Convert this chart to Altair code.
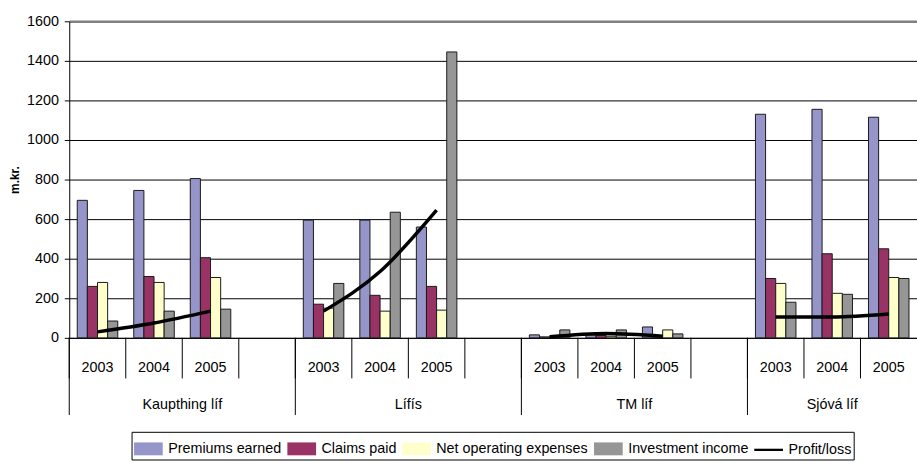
import altair as alt
import pandas as pd

# ---- data -------------------------------------------------------------
companies = ["Kaupthing líf", "Lífís", "TM líf", "Sjóvá líf"]
years = ["2003", "2004", "2005"]
bar_series = ["Premiums earned", "Claims paid", "Net operating expenses", "Investment income"]
line_series = "Profit/loss"

# values per company x year (m.kr.), companies in order above, years 2003-2005
premiums_earned = [695, 745, 805, 595, 595, 560, 15, 15, 55, 1130, 1155, 1115]
claims_paid = [260, 310, 405, 170, 215, 260, 5, 12, 12, 300, 425, 450]
net_operating_expenses = [280, 280, 305, 150, 135, 140, 8, 8, 40, 275, 225, 305]
investment_income = [85, 135, 145, 275, 635, 1445, 40, 40, 20, 180, 220, 300]
profit_loss = [30, 75, 135, 135, 335, 645, 5, 22, 8, 105, 105, 120]

y_ticks = [0, 200, 400, 600, 800, 1000, 1200, 1400, 1600]

bar_colors = ["#9595C9", "#993366", "#FFFFCC", "#969696"]
line_color = "#000000"

FONT = "Liberation Sans"

# legend swatches: wide boxes for the bars, a thick stroke for the line
RECT_PATH = "M-1,-0.45H1V0.45H-1Z"
LINE_PATH = "M-1,-0.08H1V0.08H-1Z"
SWATCH_SIZE = 841

# ---- tables -----------------------------------------------------------
# one category slot per company/year, plus a blank spacer slot between companies
slots = []
for i, c in enumerate(companies):
    for y in years:
        slots.append(f"{c}|{y}")
    if i < len(companies) - 1:
        slots.append(f"{c}|")

bar_rows, line_rows = [], []
for ci, c in enumerate(companies):
    for yi, y in enumerate(years):
        k = ci * 3 + yi
        for s, vals in zip(bar_series, [premiums_earned, claims_paid,
                                        net_operating_expenses, investment_income]):
            bar_rows.append({"slot": f"{c}|{y}", "company": c, "series": s, "value": vals[k]})
        line_rows.append({"slot": f"{c}|{y}", "company": c, "series": line_series,
                          "value": profit_loss[k]})
bars_df = pd.DataFrame(bar_rows)
line_df = pd.DataFrame(line_rows)
legend_df = pd.DataFrame({"series": bar_series + [line_series]})

slot_df = pd.DataFrame({"slot": slots})
group_df = pd.DataFrame({
    "company": companies,
    "first": [f"{c}|{years[0]}" for c in companies],
    "mid": [f"{c}|{years[1]}" for c in companies],
    "n": [4 if i < len(companies) - 1 else 3 for i in range(len(companies))],
})

# ---- shared scales / axes ---------------------------------------------
x_scale = alt.Scale(domain=slots, paddingInner=0, paddingOuter=0)
y_scale = alt.Scale(domain=[0, 1600], nice=False)
series_domain = bar_series + [line_series]
color_scale = alt.Scale(domain=series_domain, range=bar_colors + [line_color])
shape_scale = alt.Scale(domain=series_domain, range=[RECT_PATH] * 4 + [LINE_PATH])

legend = alt.Legend(
    orient="none", legendX=63, legendY=415, direction="horizontal", columns=5,
    title=None, labelFont=FONT, labelFontSize=14.5, labelColor="black", labelOffset=5,
    columnPadding=3, symbolSize=SWATCH_SIZE, padding=2, strokeColor="black", fillColor="white",
    labelLimit=400, symbolStrokeColor="black", symbolStrokeWidth=1, symbolOpacity=1,
)

x_axis = alt.Axis(
    title=None, labelExpr="split(datum.value, '|')[1]", ticks=False, tickSize=0,
    labelAngle=0, labelFont=FONT, labelFontSize=14.5, labelColor="black",
    labelPadding=30, labelBaseline="middle", labelOverlap=False, labelBound=False,
    domainColor="black", domainWidth=1, grid=False,
)

y_axis = alt.Axis(
    values=y_ticks, format="d", tickSize=5, tickColor="black", domainColor="black",
    labelFont=FONT, labelFontSize=14.5, labelColor="black", labelPadding=6,
    grid=True,
    gridColor={"condition": {"test": "datum.value === 1600", "value": "#808080"}, "value": "black"},
    gridWidth={"condition": {"test": "datum.value === 1600", "value": 2.5}, "value": 1},
    title="m.kr.", titleFont=FONT, titleFontSize=12, titleFontWeight="bold",
    titleColor="black", titleX=-55, titleY=160, titleAngle=270,
    titleAlign="center", titleBaseline="middle",
)

# ---- layers -----------------------------------------------------------
bars = alt.Chart(bars_df).mark_bar(stroke="#1a1a1a", strokeWidth=1).encode(
    x=alt.X("slot:N", scale=x_scale, axis=x_axis, sort=slots),
    xOffset=alt.XOffset("series:N", scale=alt.Scale(domain=bar_series, paddingOuter=0.79, paddingInner=0)),
    y=alt.Y("value:Q", scale=y_scale, axis=y_axis),
    color=alt.Color("series:N", scale=color_scale, legend=legend),
)

line = alt.Chart(line_df).mark_line(strokeWidth=3.5, interpolate="monotone", color=line_color).encode(
    x=alt.X("slot:N", scale=x_scale, axis=x_axis, sort=slots),
    y=alt.Y("value:Q", scale=y_scale, axis=y_axis),
    detail="company:N",
)

# legend-only layer: no marks drawn, just the combined colour/shape key
key = alt.Chart(legend_df).transform_filter("false").mark_point(
    filled=True, stroke="black", strokeWidth=1, opacity=1, size=SWATCH_SIZE
).encode(
    color=alt.Color("series:N", scale=color_scale, legend=legend),
    shape=alt.Shape("series:N", scale=shape_scale, legend=legend),
)

# short separators between years, long separators between companies
year_seps = alt.Chart(slot_df).mark_rule(color="black", strokeWidth=1).encode(
    x=alt.X("slot:N", scale=x_scale, bandPosition=0, axis=x_axis, sort=slots),
    y=alt.value(320), y2=alt.value(361),
)
company_seps = alt.Chart(group_df).mark_rule(color="black", strokeWidth=1).encode(
    x=alt.X("first:N", scale=x_scale, bandPosition=0, axis=x_axis),
    y=alt.value(320), y2=alt.value(398),
)

label_kw = dict(font=FONT, fontSize=14.5, color="black", baseline="middle", align="center")
company_labels_full = alt.Chart(group_df).transform_filter("datum.n == 4").mark_text(**label_kw).encode(
    x=alt.X("mid:N", scale=x_scale, bandPosition=1, axis=x_axis),
    y=alt.value(388), text="company:N",
)
company_labels_last = alt.Chart(group_df).transform_filter("datum.n == 3").mark_text(**label_kw).encode(
    x=alt.X("mid:N", scale=x_scale, bandPosition=0.5, axis=x_axis),
    y=alt.value(388), text="company:N",
)

chart = alt.layer(
    bars, line, year_seps, company_seps, company_labels_full, company_labels_last, key
).properties(
    width=857, height=320,
    autosize=alt.AutoSizeParams(type="none"),
    padding={"left": 70, "top": 19, "right": 0, "bottom": 123},
    background="white",
).configure_view(stroke=None)

chart.save("out.html", embed_options={"renderer": "svg", "actions": False})
